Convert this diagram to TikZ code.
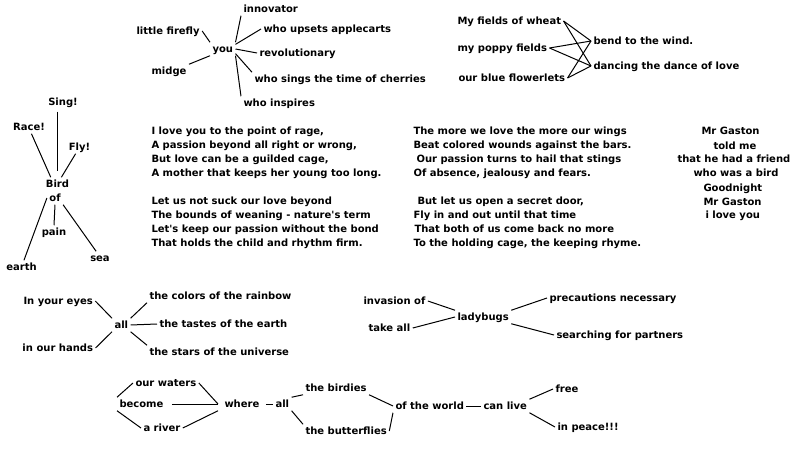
\documentclass[tikz,border=0pt]{standalone}
\usepackage{fontspec}
\setmainfont{DejaVu Sans}
\begin{document}
\begin{tikzpicture}[x=1pt,y=-1pt,line width=1pt,
    font=\bfseries\fontsize{10}{14}\selectfont,
    every node/.style={inner sep=2pt,text height=7.5pt,text depth=1pt},
    word/.style={anchor=west}]
    \useasboundingbox (0,0) rectangle (793,449);

    % you
    \node[word] (innov) at (241,9) {innovator};
    \node[word] (firefly) at (134,31) {little firefly};
    \node[word] (upsets) at (261,29) {who upsets applecarts};
    \node[word] (you) at (210,49) {you};
    \node[word] (revol) at (257,53) {revolutionary};
    \node[word] (midge) at (149,71) {midge};
    \node[word] (cherries) at (252,79) {who sings the time of cherries};
    \node[word] (inspires) at (241,103) {who inspires};
    \draw (you.north east) -- (innov.south west);
    \draw (you.20) -- (upsets.west);
    \draw (you.east) -- (revol.west);
    \draw (you.-20) -- (cherries.north west);
    \draw (you.south east) -- (inspires.north west);
    \draw (firefly.east) -- (you.north west);
    \draw (midge.north east) -- (you.south west);

    % fields
    \node[word] (wheat) at (455,21) {My fields of wheat};
    \node[word] (poppy) at (455,48) {my poppy fields};
    \node[word] (flowerlets) at (456,78) {our blue flowerlets};
    \node[word] (bend) at (591,41) {bend to the wind.};
    \node[word] (dancing) at (591,66) {dancing the dance of love};
    \foreach \a in {wheat,poppy,flowerlets}
        \foreach \b in {bend,dancing}
            \draw (\a.east) -- (\b.west);

    % bird
    \node (sing) at (63,102) {Sing!};
    \node (race) at (29,127) {Race!};
    \node (fly) at (79.5,147) {Fly!};
    \node (bird) at (57.5,184) {Bird};
    \node (of) at (55,198) {of};
    \node (pain) at (54,232) {pain};
    \node (sea) at (100,258) {sea};
    \node (earth) at (21.5,267) {earth};
    \draw [shorten <=3pt,shorten >=6pt] (sing.south -| bird.north) -- (bird.north);
    \draw (race.-70) -- (bird.135);
    \draw (fly.-120) -- (bird.60);
    \draw (of.south) -- (pain.north);
    \draw (of.west) -- (earth.70);
    \draw (of.south east) -- (sea.120);

    % poem
    \foreach \t [count=\i] in {{I love you to the point of rage,},
        {A passion beyond all right or wrong,},
        {But love can be a guilded cage,},
        {A mother that keeps her young too long.},
        {Let us not suck our love beyond},
        {The bounds of weaning - nature\textquotesingle s term},
        {Let\textquotesingle s keep our passion without the bond},
        {That holds the child and rhythm firm.}}
        \node[word] (poemA\i) at (149,{117+14*\i+(\i>4)*14}) {\t};
    \foreach \t [count=\i] in {{The more we love the more our wings},
        {Beat colored wounds against the bars.},
        {\hspace{3pt}Our passion turns to hail that stings},
        {Of absence, jealousy and fears.},
        {\hspace{4pt}But let us open a secret door,},
        {Fly in and out until that time},
        {\hspace{1pt}That both of us come back no more},
        {To the holding cage, the keeping rhyme.}}
        \node[word] (poemB\i) at (411,{117+14*\i+(\i>4)*14}) {\t};

    % Mr Gaston
    \foreach \x/\y/\t [count=\i] in {699/131/Mr Gaston, 711/146/told me,
        675/159/that he had a friend, 691/173/who was a bird,
        701/188/Goodnight, 701/202/Mr Gaston, 703/215/i love you}
        \node[word] (gaston\i) at (\x,\y) {\t};

    % all
    \node[word] (eyes) at (21,301) {In your eyes};
    \node[word] (hands) at (20,348) {in our hands};
    \node[word] (allcol) at (112,325) {all};
    \node[word] (rainbow) at (147,296) {the colors of the rainbow};
    \node[word] (tastes) at (157,324) {the tastes of the earth};
    \node[word] (stars) at (147,352) {the stars of the universe};
    \draw (eyes.east) -- (allcol.north west);
    \draw (hands.east) -- (allcol.south west);
    \draw (allcol.north east) -- (rainbow.south west);
    \draw (allcol.east) -- (tastes.west);
    \draw (allcol.south east) -- (stars.north west);

    % ladybugs
    \node[word] (invasion) at (361,301) {invasion of};
    \node[word] (takeall) at (366,328) {take all};
    \node[word] (lady) at (455,317) {ladybugs};
    \node[word] (precautions) at (547,298) {precautions necessary};
    \node[word] (searching) at (554,335) {searching for partners};
    \draw (invasion.east) -- (lady.north west);
    \draw (takeall.east) -- (lady.west);
    \draw (lady.north east) -- (precautions.west);
    \draw (lady.south east) -- (searching.west);

    % where all
    \node[word] (waters) at (133,383) {our waters};
    \node[word] (become) at (117,404) {become};
    \node[word] (river) at (141,428) {a river};
    \node[word,inner xsep=6pt] (where) at (218,404) {where};
    \node[word] (allwhere) at (273,404) {all};
    \node[word] (birdies) at (303,388) {the birdies};
    \node[word] (butterflies) at (303,431) {the butterflies};
    \node[word] (world) at (393,406) {of the world};
    \node[word] (canlive) at (481,406) {can live};
    \node[word] (free) at (553,389) {free};
    \node[word] (peace) at (555,427) {in peace!!!};
    \draw (become.north west) -- (waters.west);
    \draw (become.south west) -- (river.west);
    \draw (waters.east) -- (where.west);
    \draw [shorten <=6pt] (become.east) -- (where.west);
    \draw (river.east) -- (where.south west);
    \draw (where.east) -- (allwhere.west);
    \draw (allwhere.north east) -- (birdies.south west);
    \draw (allwhere.south east) -- (butterflies.north west);
    \draw (birdies.south east) -- (world.west);
    \draw (butterflies.east) -- (world.south west);
    \draw (world.east) -- (canlive.west);
    \draw (canlive.north east) -- (free.west);
    \draw (canlive.south east) -- (peace.west);
\end{tikzpicture}
\end{document}
